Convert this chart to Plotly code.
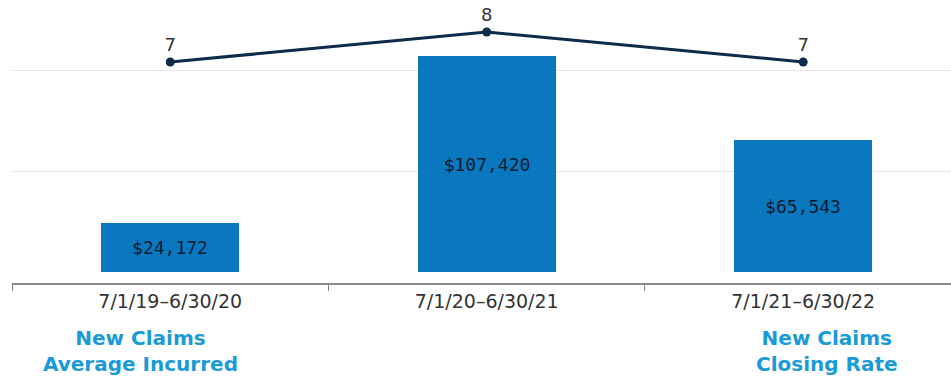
import plotly.graph_objects as go

# Claim periods and their metrics
periods = ["7/1/19–6/30/20", "7/1/20–6/30/21", "7/1/21–6/30/22"]
avg_incurred = [24172, 107420, 65543]
closing_rate = [7, 8, 7]

BAR_BLUE = "#0a78bf"
LINE_NAVY = "#0d2b4a"
LABEL_BLUE = "#1a9ad7"
TEXT_GRAY = "#333333"

fig = go.Figure()

fig.add_trace(go.Bar(
    x=periods,
    y=avg_incurred,
    marker=dict(color=BAR_BLUE, line=dict(width=0)),
    width=0.435,
    text=[f"${v:,}" for v in avg_incurred],
    textposition="inside",
    insidetextanchor="middle",
    textfont=dict(family="DejaVu Sans Mono", size=18, color="#0e1c33"),
    cliponaxis=False,
    showlegend=False,
    hoverinfo="skip",
))

fig.add_trace(go.Scatter(
    x=periods,
    y=closing_rate,
    yaxis="y2",
    mode="lines+markers+text",
    line=dict(color=LINE_NAVY, width=3),
    marker=dict(color=LINE_NAVY, size=9),
    text=[str(v) for v in closing_rate],
    textposition="top center",
    textfont=dict(family="DejaVu Sans", size=18, color=TEXT_GRAY),
    cliponaxis=False,
    showlegend=False,
    hoverinfo="skip",
))

fig.update_layout(
    width=951,
    height=381,
    margin=dict(l=12, r=0, t=0, b=98),
    paper_bgcolor="white",
    plot_bgcolor="white",
    bargap=0,
    xaxis=dict(
        type="category",
        range=[-0.5, 2.467],
        showline=True,
        linecolor="#8a8a8a",
        linewidth=1.5,
        ticks="outside",
        tickson="boundaries",
        ticklen=6,
        tickcolor="#8a8a8a",
        tickfont=dict(family="DejaVu Sans", size=19, color=TEXT_GRAY),
        showgrid=False,
    ),
    yaxis=dict(
        range=[-5470, 135200],
        tickvals=[50000, 100000],
        showticklabels=False,
        showgrid=True,
        gridcolor="#e8e8e8",
        gridwidth=1,
        zeroline=False,
        showline=False,
    ),
    yaxis2=dict(
        overlaying="y",
        range=[-0.367, 9.067],
        showgrid=False,
        showticklabels=False,
        zeroline=False,
        showline=False,
    ),
)

# Metric captions under the axis
caption_font = dict(family="DejaVu Sans", size=20, color=LABEL_BLUE, weight="bold")
fig.add_annotation(
    text="New Claims<br>Average Incurred",
    xref="paper", yref="paper",
    x=(140 - 12) / 939, y=-0.145,
    xanchor="center", yanchor="top",
    showarrow=False,
    align="center",
    font=caption_font,
)
fig.add_annotation(
    text="New Claims<br>Closing Rate",
    xref="paper", yref="paper",
    x=(827 - 12) / 939, y=-0.145,
    xanchor="center", yanchor="top",
    showarrow=False,
    align="center",
    font=caption_font,
)

fig.write_html("out.html")
